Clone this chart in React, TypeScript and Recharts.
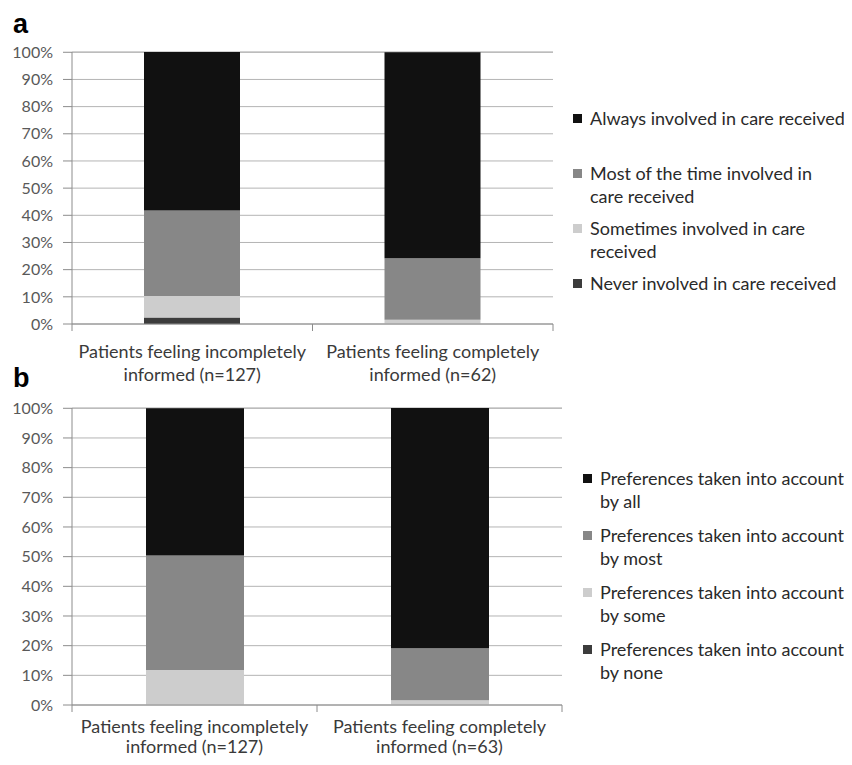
import React from "react";
import { BarChart, Bar, XAxis, YAxis, CartesianGrid } from "recharts";

// panel a
const categoriesA = [
  "Patients feeling incompletely\ninformed (n=127)",
  "Patients feeling completely\ninformed (n=62)",
];
const alwaysA = [58.3, 75.8];
const mostA = [31.5, 22.6];
const sometimesA = [7.9, 1.6];
const neverA = [2.4, 0];

// panel b
const categoriesB = [
  "Patients feeling incompletely\ninformed (n=127)",
  "Patients feeling completely\ninformed (n=63)",
];
const byAllB = [49.6, 81.0];
const byMostB = [38.6, 17.5];
const bySomeB = [11.8, 1.6];
const byNoneB = [0, 0];

const yTicks = [0, 10, 20, 30, 40, 50, 60, 70, 80, 90, 100];

const FONT = "Lato, 'Noto Sans', sans-serif";
const GRID = "#b4b4b4";
const AXIS = "#8c8c8c";

type Series = { key: string; name: string; color: string; values: number[] };

const seriesA: Series[] = [
  { key: "never", name: "Never involved in care received", color: "#3c3c3c", values: neverA },
  { key: "sometimes", name: "Sometimes involved in care\nreceived", color: "#cdcdcd", values: sometimesA },
  { key: "most", name: "Most of the time involved in\ncare received", color: "#878787", values: mostA },
  { key: "always", name: "Always involved in care received", color: "#111111", values: alwaysA },
];

const seriesB: Series[] = [
  { key: "none", name: "Preferences taken into account\nby none", color: "#3c3c3c", values: byNoneB },
  { key: "some", name: "Preferences taken into account\nby some", color: "#cdcdcd", values: bySomeB },
  { key: "most", name: "Preferences taken into account\nby most", color: "#878787", values: byMostB },
  { key: "all", name: "Preferences taken into account\nby all", color: "#111111", values: byAllB },
];

const buildRows = (cats: string[], series: Series[]) =>
  cats.map((c, i) => {
    const row: Record<string, string | number> = { category: c };
    series.forEach((s) => (row[s.key] = s.values[i]));
    return row;
  });

const makeTick = (halfBand: number, dy1: number, dy2: number) => (props: any) => {
  const { x, y, payload, index } = props;
  const lines = String(payload.value).split("\n");
  return (
    <g>
      <line x1={x + halfBand} y1={y} x2={x + halfBand} y2={y + 7} stroke={AXIS} />
      {index === 0 && <line x1={x - halfBand} y1={y} x2={x - halfBand} y2={y + 7} stroke={AXIS} />}
      <text x={x} y={y} textAnchor="middle" fontFamily={FONT} fontSize={18} fill="#3a3a3a">
        {lines.map((l, i) => (
          <tspan key={i} x={x} dy={i === 0 ? dy1 : dy2}>
            {l}
          </tspan>
        ))}
      </text>
    </g>
  );
};

interface PanelProps {
  top: number;
  height: number;
  marginTop: number;
  plotHeight: number;
  marginRight: number;
  barSize: number;
  labelDy: [number, number];
  categories: string[];
  series: Series[];
}

const W = 836;
const Y_W = 64;

const Panel = ({
  top,
  height,
  marginTop,
  plotHeight,
  marginRight,
  barSize,
  labelDy,
  categories,
  series,
}: PanelProps) => {
  const data = buildRows(categories, series);
  const plotWidth = W - Y_W - marginRight;
  const halfBand = plotWidth / categories.length / 2;
  return (
    <div style={{ position: "absolute", left: 0, top }}>
      <BarChart
        width={W}
        height={height}
        data={data}
        margin={{ top: marginTop, right: marginRight, bottom: 0, left: 0 }}
      >
        <CartesianGrid vertical={false} stroke={GRID} />
        <XAxis
          dataKey="category"
          height={height - marginTop - plotHeight}
          tickSize={0}
          tickMargin={0}
          interval={0}
          stroke={AXIS}
          tick={makeTick(halfBand, labelDy[0], labelDy[1])}
        />
        <YAxis
          width={Y_W}
          domain={[0, 100]}
          ticks={yTicks}
          tickFormatter={(v) => `${v}%`}
          tickSize={9}
          tickMargin={10}
          stroke={AXIS}
          tick={{ fill: "#595959", fontSize: 16, fontFamily: FONT }}
        />
        {series.map((s) => (
          <Bar
            key={s.key}
            dataKey={s.key}
            name={s.name}
            stackId="a"
            fill={s.color}
            barSize={barSize}
            isAnimationActive={false}
          />
        ))}
      </BarChart>
    </div>
  );
};

const LegendBox = ({ series, left, top, slot }: { series: Series[]; left: number; top: number; slot: number }) => (
  <div
    style={{ position: "absolute", left, top, width: 300, fontFamily: FONT, fontSize: 18, color: "#2a2a2a" }}
  >
    {[...series].reverse().map((s) => (
      <div key={s.key} style={{ height: slot, display: "flex", alignItems: "flex-start" }}>
        <div
          style={{ width: 9, height: 9, background: s.color, marginTop: 7, marginRight: 8, flexShrink: 0 }}
        />
        <div style={{ whiteSpace: "pre", lineHeight: "23px" }}>{s.name}</div>
      </div>
    ))}
  </div>
);

const App = () => {
  return (
    <div style={{ position: "relative", width: W, height: 749 }}>
      <style>{"body{overflow:hidden}"}</style>
      <div
        style={{
          position: "absolute",
          left: 5,
          top: 1,
          fontFamily: "'Liberation Sans', Arial, sans-serif",
          fontWeight: "bold",
          fontSize: 27,
        }}
      >
        a
      </div>
      <Panel
        top={0}
        height={380}
        marginTop={44}
        plotHeight={272}
        marginRight={291}
        barSize={96}
        labelDy={[34, 23]}
        categories={categoriesA}
        series={seriesA}
      />
      <LegendBox series={seriesA} left={565} top={99} slot={55} />
      <div
        style={{
          position: "absolute",
          left: 5,
          top: 355,
          fontFamily: "'Liberation Sans', Arial, sans-serif",
          fontWeight: "bold",
          fontSize: 27,
        }}
      >
        b
      </div>
      <Panel
        top={352}
        height={412}
        marginTop={48}
        plotHeight={297}
        marginRight={282}
        barSize={98}
        labelDy={[28, 20]}
        categories={categoriesB}
        series={seriesB}
      />
      <LegendBox series={seriesB} left={575} top={459} slot={57} />
    </div>
  );
};

export default App;
